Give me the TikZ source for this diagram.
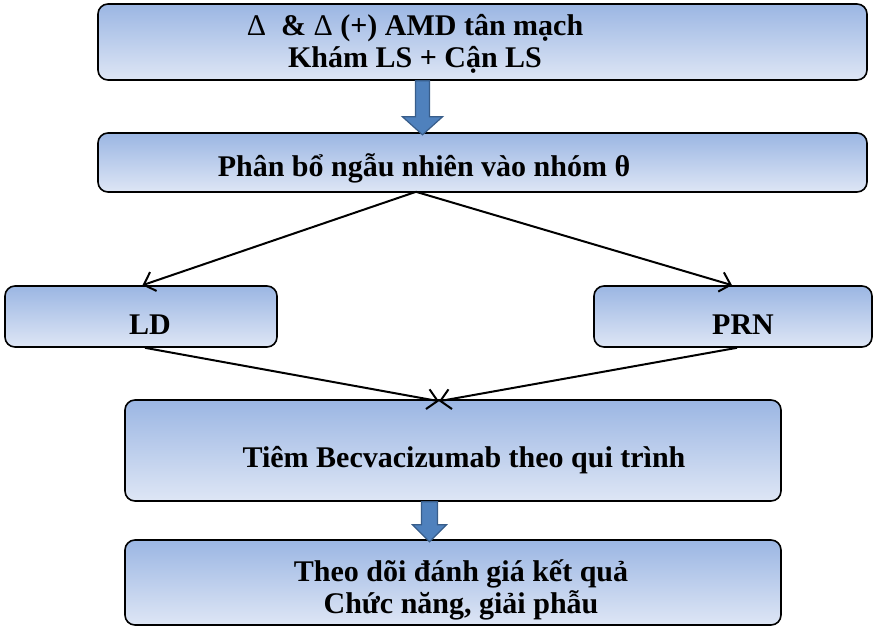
\documentclass[tikz,border=0pt]{standalone}
\usepackage{fontspec}
\setmainfont{Liberation Serif}
\usetikzlibrary{arrows.meta,calc}
\definecolor{boxtop}{RGB}{155,182,227}
\definecolor{boxbot}{RGB}{222,230,245}
\definecolor{blkfill}{RGB}{79,129,189}
\definecolor{blkline}{RGB}{56,93,138}
\tikzset{
  flowbox/.style={draw=black, line width=1.6pt, rounded corners=10pt, top color=boxtop, bottom color=boxbot, shading angle=0, inner sep=0pt},
  lbl/.style={font=\fontsize{30}{32}\selectfont\bfseries, align=center, inner sep=0pt},
  conn/.style={draw=black, line width=2pt, -{Straight Barb[length=10pt,width=20pt,line width=2pt]}},
  blockarrow/.style={fill=blkfill, draw=blkline, line width=1.2pt, line join=miter}
}
\begin{document}
\begin{tikzpicture}[x=1pt,y=-1pt]
\useasboundingbox (0,0) rectangle (873,627);
% boxes
\node[flowbox, minimum width=769pt, minimum height=76pt] (b1) at (482.5,42) {};
\node[flowbox, minimum width=769pt, minimum height=59pt] (b2) at (482.5,162.5) {};
\node[flowbox, minimum width=272pt, minimum height=61pt] (ld) at (141,316.5) {};
\node[flowbox, minimum width=278pt, minimum height=61pt] (prn) at (733,316.5) {};
\node[flowbox, minimum width=656pt, minimum height=101pt] (b4) at (453,450.5) {};
\node[flowbox, minimum width=656pt, minimum height=85pt] (b5) at (453,582.5) {};
% texts
\node[lbl] (t1) at (415,44) {{\mdseries Δ}\ \ \& {\mdseries Δ} (+) AMD tân mạch\\Khám LS + Cận LS};
\node[lbl] (t2) at (424,168) {Phân bổ ngẫu nhiên vào nhóm θ};
\node[lbl] (t3) at (150,325) {LD};
\node[lbl] (t4) at (743,325) {PRN};
\node[lbl] (t5) at (464,460) {Tiêm Becvacizumab theo qui trình};
\node[lbl] (t6) at (461,590) {Theo dõi đánh giá kết quả\\Chức năng, giải phẫu};
% block arrows
\path[blockarrow] ($(b1.south)+(-60,0)$) coordinate (a1) ++(-7,0) -- ++(0,36) -- ++(-13,0) -- ($(a1)+(0,54)$) -- ($(a1)+(20,36)$) -- ($(a1)+(7,36)$) -- ($(a1)+(7,0)$) -- cycle;
\path[blockarrow] ($(b4.south)+(-23.5,0)$) coordinate (a2) ++(-8,0) -- ++(0,23) -- ++(-9,0) -- ($(a2)+(0,40)$) -- ($(a2)+(17,23)$) -- ($(a2)+(8,23)$) -- ($(a2)+(8,0)$) -- cycle;
% connectors
\draw[conn] ([xshift=-66.5pt,yshift=1pt]b2.south) -- ([xshift=1.5pt]ld.north);
\draw[conn] ([xshift=-66.5pt,yshift=1pt]b2.south) -- ([xshift=-1pt]prn.north);
\draw[conn] ([xshift=4pt]ld.south) -- ([xshift=-14pt,yshift=-2pt]b4.north);
\draw[conn] ([xshift=4pt]prn.south) -- ([xshift=-14pt,yshift=-2pt]b4.north);
\end{tikzpicture}
\end{document}
